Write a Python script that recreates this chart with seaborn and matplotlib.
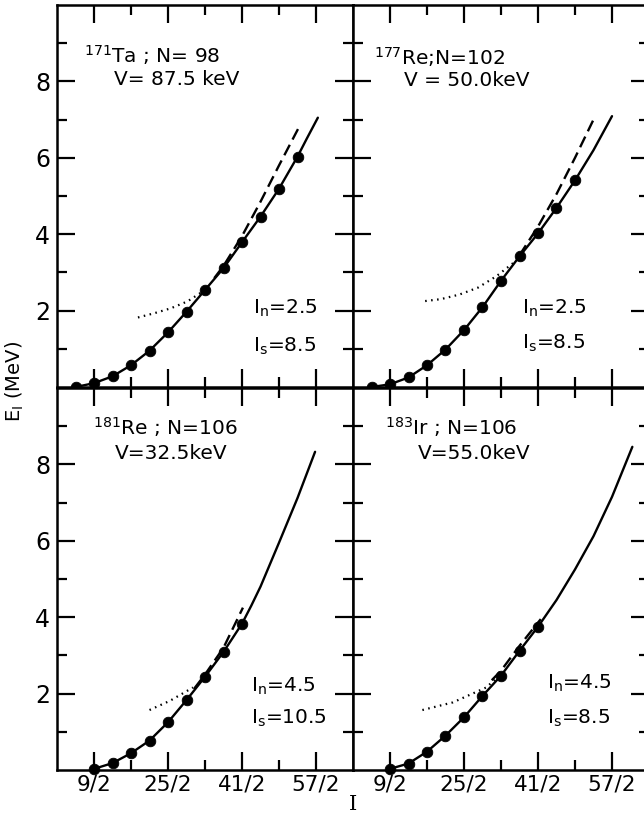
import numpy as np
import pandas as pd
import matplotlib
matplotlib.use('Agg')
import matplotlib.pyplot as plt
import seaborn as sns

# Measured levels (I, E in MeV) for each nucleus
ta_I = [2.5, 4.5, 6.5, 8.5, 10.5, 12.5, 14.5, 16.5, 18.5, 20.5, 22.5, 24.5, 26.5]
ta_E = [0.0, 0.10, 0.28, 0.57, 0.95, 1.43, 1.97, 2.54, 3.11, 3.79, 4.46, 5.19, 6.03]
re177_I = [2.5, 4.5, 6.5, 8.5, 10.5, 12.5, 14.5, 16.5, 18.5, 20.5, 22.5, 24.5]
re177_E = [0.0, 0.07, 0.25, 0.57, 0.98, 1.49, 2.09, 2.78, 3.42, 4.02, 4.69, 5.41]
re181_I = [4.5, 6.5, 8.5, 10.5, 12.5, 14.5, 16.5, 18.5, 20.5]
re181_E = [0.03, 0.18, 0.44, 0.77, 1.25, 1.83, 2.44, 3.09, 3.83]
ir_I = [4.5, 6.5, 8.5, 10.5, 12.5, 14.5, 16.5, 18.5, 20.5]
ir_E = [0.03, 0.17, 0.48, 0.90, 1.38, 1.94, 2.47, 3.12, 3.75]

# Calculated curves (solid)
ta_fit_I = ta_I + [27.5, 28.7]
ta_fit_E = ta_E + [6.50, 7.05]
re177_fit_I = re177_I + [26.5, 28.5]
re177_fit_E = re177_E + [6.20, 7.09]
re181_fit_I = re181_I + [21.5, 22.5, 24.5, 26.5, 28.4]
re181_fit_E = re181_E + [4.30, 4.80, 5.95, 7.12, 8.33]
ir_fit_I = ir_I + [22.5, 24.5, 26.5, 28.5, 30.7]
ir_fit_E = ir_E + [4.45, 5.25, 6.12, 7.15, 8.46]

# Dashed curves
ta_dash_I = [17.5, 18.5, 20.5, 22.5, 24.5, 26.7]
ta_dash_E = [2.85, 3.17, 3.95, 4.85, 5.80, 6.82]
re177_dash_I = [18.5, 19.3, 20.5, 22.5, 24.5, 26.7]
re177_dash_E = [3.45, 3.75, 4.20, 5.05, 6.00, 7.10]
re181_dash_I = [15.3, 16.5, 18.5, 20.6]
re181_dash_E = [2.12, 2.50, 3.20, 4.25]
ir_dash_I = [15.5, 16.5, 18.5, 20.8]
ir_dash_E = [2.35, 2.60, 3.25, 3.95]

# Dotted curves
ta_dot_I = [9.25, 11.0, 12.8, 14.6, 16.0]
ta_dot_E = [1.82, 1.93, 2.06, 2.24, 2.46]
re177_dot_I = [8.3, 10.0, 12.0, 14.0, 16.0, 18.0]
re177_dot_E = [2.25, 2.30, 2.42, 2.60, 2.90, 3.28]
re181_dot_I = [10.5, 12.7, 15.2]
re181_dot_E = [1.57, 1.81, 2.16]
ir_dot_I = [8.0, 11.3, 14.9, 16.0]
ir_dot_E = [1.57, 1.77, 2.16, 2.40]

titles = [r'$^{171}$Ta ; N= 98', r'$^{177}$Re;N=102', r'$^{181}$Re ; N=106', r'$^{183}$Ir ; N=106']
v_labels = ['V= 87.5 keV', 'V = 50.0keV', 'V=32.5keV', 'V=55.0keV']
in_labels = [r'I$_{\mathrm{n}}$=2.5', r'I$_{\mathrm{n}}$=2.5', r'I$_{\mathrm{n}}$=4.5', r'I$_{\mathrm{n}}$=4.5']
is_labels = [r'I$_{\mathrm{s}}$=8.5', r'I$_{\mathrm{s}}$=8.5', r'I$_{\mathrm{s}}$=10.5', r'I$_{\mathrm{s}}$=8.5']
x_tick_labels = ['9/2', '25/2', '41/2', '57/2']

panels = [
    (ta_I, ta_E, ta_fit_I, ta_fit_E, ta_dash_I, ta_dash_E, ta_dot_I, ta_dot_E),
    (re177_I, re177_E, re177_fit_I, re177_fit_E, re177_dash_I, re177_dash_E, re177_dot_I, re177_dot_E),
    (re181_I, re181_E, re181_fit_I, re181_fit_E, re181_dash_I, re181_dash_E, re181_dot_I, re181_dot_E),
    (ir_I, ir_E, ir_fit_I, ir_fit_E, ir_dash_I, ir_dash_E, ir_dot_I, ir_dot_E),
]

# text placement (data coords): title x, title y, V x, V y, In x, In y, Is y
text_pos = [
    (3.4, 8.48, 6.7, 7.90, 21.7, 2.07, 1.07),
    (2.8, 8.43, 6.0, 7.88, 18.8, 2.07, 1.15),
    (4.4, 8.78, 6.8, 8.15, 21.5, 2.20, 1.35),
    (4.0, 8.78, 7.5, 8.15, 21.5, 2.26, 1.35),
]

sns.set_theme(style='ticks')
plt.rcParams['font.family'] = ['DejaVu Sans']
plt.rcParams['text.color'] = 'black'
plt.rcParams['xtick.color'] = 'black'
plt.rcParams['ytick.color'] = 'black'
plt.rcParams['axes.labelcolor'] = 'black'

fig = plt.figure(figsize=(6.44, 8.13), dpi=100)
W, H = 644, 813
pw, ph = 296, 382
boxes = [(57, 5), (353, 5), (57, 388), (353, 388)]

for k, (px, py) in enumerate(boxes):
    ax = fig.add_axes([px / W, (H - py - ph) / H, pw / W, ph / H])
    I, E, fI, fE, dI, dE, tI, tE = panels[k]
    sns.lineplot(x=fI, y=fE, ax=ax, color='black', lw=1.7, sort=False)
    sns.lineplot(x=dI, y=dE, ax=ax, color='black', lw=1.7, sort=False, linestyle=(0, (5, 2.5)))
    sns.lineplot(x=tI, y=tE, ax=ax, color='black', lw=1.6, sort=False, linestyle=(0, (0.7, 2.0)))
    sns.scatterplot(x=I, y=E, ax=ax, color='black', s=58, edgecolor='black', zorder=4, clip_on=False)

    ax.set_xlim(0.5, 32.5)
    ax.set_ylim(0, 10)
    ax.set_xticks([4.5, 12.5, 20.5, 28.5])
    ax.set_xticks([8.5, 16.5, 24.5], minor=True)
    ax.set_yticks([2, 4, 6, 8])
    ax.set_yticks([1, 3, 5, 7, 9], minor=True)
    ax.set_yticklabels(['2', '4', '6', '8'])
    ax.set_xticklabels(x_tick_labels)
    ax.tick_params(which='both', direction='in', top=True, right=True, width=1.6, color='black')
    ax.tick_params(which='major', length=13)
    ax.tick_params(which='minor', length=7)
    ax.tick_params(axis='y', labelsize=17, pad=5, labelleft=(k % 2 == 0), labelcolor='black')
    ax.tick_params(axis='x', labelsize=15.5, pad=3, labelbottom=(k >= 2), labelcolor='black')
    for s in ax.spines.values():
        s.set_linewidth(1.8)
        s.set_color('black')
    ax.set_xlabel('')
    ax.set_ylabel('')
    ax.set_facecolor('white')

    tx, ty, vx, vy, ix, iy, sy = text_pos[k]
    ax.text(tx, ty, titles[k], fontsize=14.5, va='baseline', color='black')
    ax.text(vx, vy, v_labels[k], fontsize=14.5, va='baseline', color='black')
    ax.text(ix, iy, in_labels[k], fontsize=14.5, va='center', color='black')
    ax.text(ix, sy, is_labels[k], fontsize=14.5, va='center', color='black')

fig.text(15 / W, (H - 381) / H, r'E$_{\mathrm{I}}$ (MeV)', rotation=90, fontsize=14,
         ha='center', va='center', color='black')
fig.text(353 / W, (H - 804) / H, 'I', family='DejaVu Serif', fontsize=15,
         ha='center', va='center', color='black')

fig.savefig('out.png', dpi=100, facecolor='white')
